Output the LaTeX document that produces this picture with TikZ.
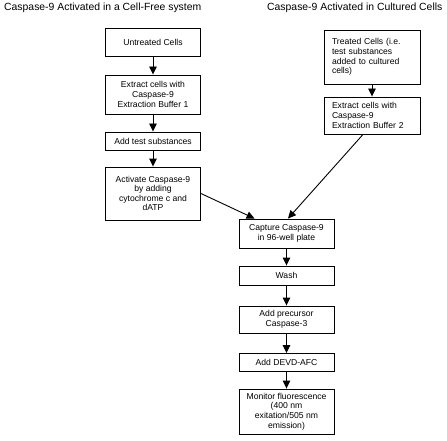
\documentclass[tikz,border=0pt]{standalone}
\usepackage{fontspec}
\setmainfont{Liberation Sans}
\usetikzlibrary{arrows.meta,calc}
\tikzset{
  box/.style={draw=black, line width=0.9pt, rectangle, inner sep=0pt, minimum width=95pt,
    align=center, font=\fontsize{8.6}{9.6}\selectfont},
  lbox/.style={draw=black, line width=0.9pt, rectangle, inner xsep=8pt, inner ysep=0pt,
    text width=80pt, align=left, font=\fontsize{8.6}{9.8}\selectfont},
  ttl/.style={anchor=base west, inner sep=0pt, font=\fontsize{10.4}{12}\selectfont},
  arr/.style={line width=0.9pt, -{Triangle[length=8pt,width=7.5pt]}}
}
\begin{document}
\begin{tikzpicture}[x=1pt,y=-1pt]
\useasboundingbox[fill=white] (0,0) rectangle (447,441);
\node[ttl] (t1) at (4,11) {Caspase-9 Activated in a Cell-Free system};
\node[ttl] (t2) at (267,11) {Caspase-9 Activated in Cultured Cells};
% left column
\node[box, minimum height=28pt] (untreated) at (153,42) {Untreated Cells};
\node[box, minimum height=39pt] (extract1) at (153,94.5) {Extract cells with\\Caspase-9\\Extraction Buffer 1};
\node[box, minimum height=18pt] (addtest) at (153,141) {Add test substances};
\node[box, minimum height=53pt] (activate) at (153,193.5) {Activate Caspase-9\\by adding\\cytochrome c and\\dATP};
% right column
\node[lbox, minimum height=54pt] (treated) at (372,57) {Treated Cells (i.e.\\test substances\\added to cultured\\cells)};
\node[lbox, minimum height=37pt] (extract2) at (372,115.5) {Extract cells with\\Caspase-9\\Extraction Buffer 2};
% centre column
\node[box, minimum height=29pt] (capture) at (286.5,233.5) {Capture Caspase-9\\in 96-well plate};
\node[box, minimum height=19pt] (wash) at (286.5,275.5) {Wash};
\node[box, minimum height=27pt] (precursor) at (286.5,319.5) {Add precursor\\Caspase-3};
\node[box, minimum height=18pt] (devd) at (286.5,362.5) {Add DEVD-AFC};
\node[box, minimum height=45pt] (monitor) at (286.5,411.5) {Monitor fluorescence\\(400 nm\\exitation/505 nm\\emission)};
% connectors
\draw[arr] (untreated) -- (extract1);
\draw[arr] (extract1) -- (addtest);
\draw[arr] (addtest) -- (activate);
\draw[arr] (treated) -- (extract2);
\draw[arr] (activate.east) -- ($(capture.north west)+(16,0)$);
\draw[arr] ($(extract2.south)+(-9,0)$) -- ($(capture.north)+(1.5,0)$);
\draw[arr] (capture) -- (wash);
\draw[arr] (wash) -- (precursor);
\draw[arr] (precursor) -- (devd);
\draw[arr] (devd) -- (monitor);
\end{tikzpicture}
\end{document}
